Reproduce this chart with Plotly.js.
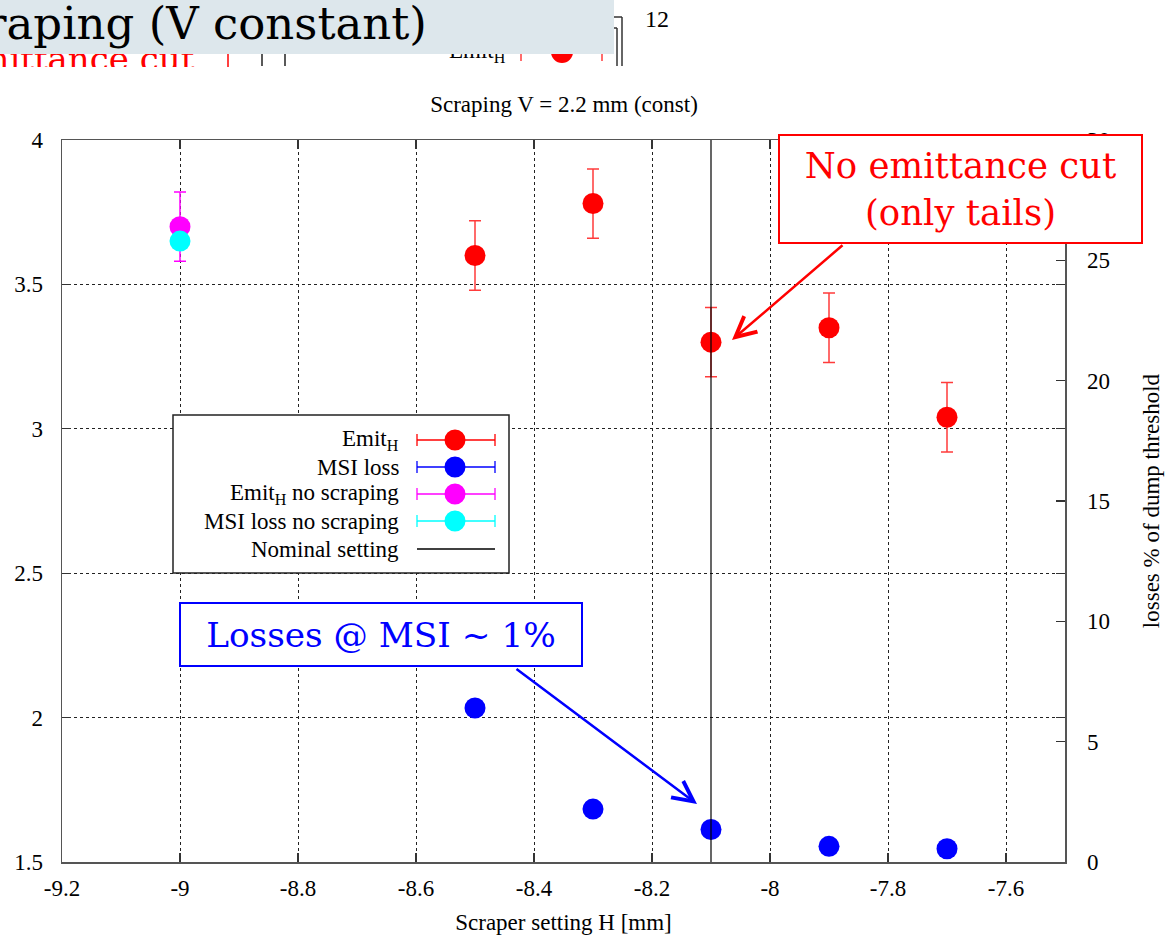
<!DOCTYPE html>
<html><head><meta charset="utf-8">
<script src="https://cdn.plot.ly/plotly-3.0.1.min.js"></script>
<style>html,body{margin:0;padding:0;background:#fff;overflow:hidden}</style>
</head><body><div id="chart" style="width:1169px;height:935px"></div>
<script>
// ---------- data ----------
const scraperH = [-8.5, -8.3, -8.1, -7.9, -7.7];
const emitH = [3.60, 3.78, 3.30, 3.35, 3.04];
const emitHErr = [0.12, 0.12, 0.12, 0.12, 0.12];
const msiLoss = [6.4, 2.2, 1.35, 0.65, 0.55];
const noScrapeH = [-9.0];
const emitHNoScrape = [3.70];
const emitHNoScrapeErr = [0.12];
const msiLossNoScrape = [25.8];
const nominalH = -8.1;

const xTickVals = [-9.2, -9, -8.8, -8.6, -8.4, -8.2, -8, -7.8, -7.6];
const xTickText = ['-9.2', '-9', '-8.8', '-8.6', '-8.4', '-8.2', '-8', '-7.8', '-7.6'];
const yTickVals = [1.5, 2, 2.5, 3, 3.5, 4];
const yTickText = ['1.5', '2', '2.5', '3', '3.5', '4'];
const y2TickVals = [0, 5, 10, 15, 20, 25, 30];
const y2TickText = ['0', '5', '10', '15', '20', '25', '30'];

const legendLabels = ['Emit<sub>H</sub>', 'MSI loss', 'Emit<sub>H</sub> no scraping', 'MSI loss no scraping', 'Nominal setting'];
const legendColors = ['#ff0000', '#0000ff', '#ff00ff', '#00ffff', '#000000'];

const chartTitle = 'Scraping V = 2.2 mm (const)';
const xTitle = 'Scraper setting H [mm]';
const y2Title = 'losses % of dump threshold';
const noteRed = 'No emittance cut<br>(only tails)';
const noteBlue = 'Losses @ MSI ~ 1%';
const slideTitle = 'Scraping (V constant)';
const slideRed = 'No emittance cut';
const slidePage = '12';

// ---------- geometry helpers (pixel -> paper) ----------
const W = 1169, H = 935;
const L = 62, R = 1065, T = 140, B = 862;
const PX = p => (p - L) / (R - L);
const PY = p => (B - p) / (B - T);

const serif = '"Liberation Serif", "Times New Roman", serif';
const slab = '"DejaVu Serif", serif';
const FS = 23;
const tickFont = {family: serif, size: FS, color: '#000'};

// ---------- traces ----------
const traces = [
  {
    x: scraperH, y: emitH, type: 'scatter', mode: 'markers', yaxis: 'y',
    marker: {color: '#ff0000', size: 21},
    error_y: {type: 'data', array: emitHErr, visible: true, color: '#ff3b3b', thickness: 1.5, width: 6},
    showlegend: false, hoverinfo: 'skip'
  },
  {
    x: noScrapeH, y: emitHNoScrape, type: 'scatter', mode: 'markers', yaxis: 'y',
    marker: {color: '#ff00ff', size: 21},
    error_y: {type: 'data', array: emitHNoScrapeErr, visible: true, color: '#ff00ff', thickness: 1.5, width: 6},
    showlegend: false, hoverinfo: 'skip'
  },
  {
    x: scraperH, y: msiLoss, type: 'scatter', mode: 'markers', yaxis: 'y2',
    marker: {color: '#0000ff', size: 21},
    showlegend: false, hoverinfo: 'skip'
  },
  {
    x: noScrapeH, y: msiLossNoScrape, type: 'scatter', mode: 'markers', yaxis: 'y2',
    marker: {color: '#00ffff', size: 21},
    showlegend: false, hoverinfo: 'skip'
  }
];

// ---------- shapes ----------
const shapes = [];
shapes.push({type: 'line', xref: 'x', yref: 'paper', x0: nominalH, x1: nominalH, y0: 0, y1: 1,
  line: {color: '#000', width: 1.2}, layer: 'above'});

// custom legend box
const lgX0 = 173, lgX1 = 509, lgY0 = 415, lgY1 = 573;
shapes.push({type: 'rect', xref: 'paper', yref: 'paper', x0: PX(lgX0), x1: PX(lgX1), y0: PY(lgY0), y1: PY(lgY1),
  line: {color: '#222', width: 1.5}, fillcolor: '#fff', layer: 'above'});
const lgRows = [440, 467, 494, 521, 549];
const sx0 = 417, sx1 = 495, sxm = 455;
lgRows.forEach((ry, i) => {
  const c = legendColors[i];
  shapes.push({type: 'line', xref: 'paper', yref: 'paper', x0: PX(sx0), x1: PX(sx1), y0: PY(ry), y1: PY(ry),
    line: {color: c, width: 1.3}, layer: 'above'});
  if (i < 4) {
    [sx0, sx1].forEach(cx => shapes.push({type: 'line', xref: 'paper', yref: 'paper', x0: PX(cx), x1: PX(cx),
      y0: PY(ry - 6), y1: PY(ry + 6), line: {color: c, width: 1.3}, layer: 'above'}));
    shapes.push({type: 'circle', xref: 'paper', yref: 'paper', x0: PX(sxm - 10.5), x1: PX(sxm + 10.5),
      y0: PY(ry - 10.5), y1: PY(ry + 10.5), line: {width: 0}, fillcolor: c, layer: 'above'});
  }
});

// slide fragments at the top
const frag = (x0, y0, x1, y1, color) => shapes.push({type: 'line', xref: 'paper', yref: 'paper',
  x0: PX(x0), x1: PX(x1), y0: PY(y0), y1: PY(y1), line: {color: color, width: 1.5}, layer: 'above'});
frag(228, 48, 228, 68, '#ff0000');
frag(262, 48, 262, 66, '#222');
frag(285, 48, 285, 66, '#222');
frag(521, 44, 521, 61, '#ff3b3b');
frag(602, 44, 602, 61, '#ff3b3b');
frag(617, 28, 617, 66, '#333');
frag(622, 17, 622, 66, '#333');
frag(610, 17, 622, 17, '#333');
frag(610, 28, 617, 28, '#333');
shapes.push({type: 'circle', xref: 'paper', yref: 'paper', x0: PX(551), x1: PX(573), y0: PY(41), y1: PY(63),
  line: {width: 0}, fillcolor: '#ff0000', layer: 'above'});

// ---------- annotations ----------
const annotations = [];
// slide fragments: red text and Emit_H piece, then white cover below, grey title box on top
annotations.push({xref: 'paper', yref: 'paper', x: PX(197), y: PY(81), xanchor: 'right', yanchor: 'bottom',
  text: slideRed, showarrow: false, font: {family: slab, size: 34, color: '#ff0000'}});
annotations.push({xref: 'paper', yref: 'paper', x: PX(508), y: PY(68), xanchor: 'right', yanchor: 'bottom',
  text: 'Emit<sub>H</sub>', showarrow: false, font: {family: serif, size: FS, color: '#000'}});
annotations.push({xref: 'paper', yref: 'paper', x: PX(-10), y: PY(66.5), xanchor: 'left', yanchor: 'top',
  text: ' ', showarrow: false, bgcolor: '#fff', borderpad: 0, borderwidth: 0, width: 720, height: 22});
annotations.push({xref: 'paper', yref: 'paper', x: PX(-20), y: PY(-20), xanchor: 'left', yanchor: 'top',
  text: ' ', showarrow: false, bgcolor: '#dde7ec', borderpad: 0, borderwidth: 0, width: 634, height: 74});
annotations.push({xref: 'paper', yref: 'paper', x: PX(429), y: PY(24), xanchor: 'right', yanchor: 'middle',
  text: slideTitle, showarrow: false, font: {family: slab, size: 45, color: '#000'}});
annotations.push({xref: 'paper', yref: 'paper', x: PX(657), y: PY(19), xanchor: 'center', yanchor: 'middle',
  text: slidePage, showarrow: false, font: {family: serif, size: 24, color: '#000'}});

// legend texts
lgRows.forEach((ry, i) => annotations.push({xref: 'paper', yref: 'paper', x: PX(401), y: PY(ry),
  xanchor: 'right', yanchor: 'middle', text: legendLabels[i], showarrow: false,
  font: {family: serif, size: FS, color: '#000'}}));

// callouts
annotations.push({xref: 'paper', yref: 'paper', x: PX(960.5), y: PY(189), xanchor: 'center', yanchor: 'middle',
  text: noteRed, showarrow: false, align: 'center', font: {family: slab, size: 35.5, color: '#ff0000'},
  bgcolor: '#fff', bordercolor: '#ff0000', borderwidth: 2, borderpad: 0, width: 361, height: 106});
annotations.push({xref: 'paper', yref: 'paper', x: PX(732), y: PY(340), text: '', showarrow: true,
  ax: 112, ay: -96, arrowcolor: '#ff0000', arrowwidth: 2.5, arrowhead: 5, arrowsize: 1.6, standoff: 0});
annotations.push({xref: 'paper', yref: 'paper', x: PX(381), y: PY(634.5), xanchor: 'center', yanchor: 'middle',
  text: noteBlue, showarrow: false, font: {family: slab, size: 34.3, color: '#0000ff'},
  bgcolor: '#fff', bordercolor: '#0000ff', borderwidth: 2, borderpad: 0, width: 400, height: 61});
annotations.push({xref: 'paper', yref: 'paper', x: PX(697), y: PY(804), text: '', showarrow: true,
  ax: -182, ay: -136, arrowcolor: '#0000ff', arrowwidth: 2.5, arrowhead: 5, arrowsize: 1.6, standoff: 0});

// ---------- layout ----------
const gridStyle = {showgrid: true, gridcolor: '#222', gridwidth: 1, griddash: '3px,3px'};
const layout = {
  width: W, height: H,
  margin: {l: L, r: W - R, t: T, b: H - B, pad: 0},
  paper_bgcolor: '#fff', plot_bgcolor: '#fff',
  font: {family: serif, size: FS, color: '#000'},
  showlegend: false,
  title: {text: chartTitle, font: {family: serif, size: FS, color: '#000'},
    x: 564 / W, xref: 'container', xanchor: 'center',
    y: 1 - 104 / H, yref: 'container', yanchor: 'middle'},
  xaxis: Object.assign({
    range: [-9.2, -7.5], tickmode: 'array', tickvals: xTickVals, ticktext: xTickText, tickfont: tickFont,
    ticks: 'inside', ticklen: 9, tickcolor: '#333', tickwidth: 1.3,
    showline: true, linecolor: '#555', linewidth: 1.5, mirror: 'ticks', zeroline: false,
    ticklabelstandoff: 5,
    title: {text: xTitle, font: {family: serif, size: FS}, standoff: 14}
  }, gridStyle),
  yaxis: Object.assign({
    range: [1.5, 4], tickmode: 'array', tickvals: yTickVals, ticktext: yTickText, tickfont: tickFont,
    ticks: 'inside', ticklen: 9, tickcolor: '#333', tickwidth: 1.3,
    showline: true, linecolor: '#555', linewidth: 1.5, mirror: 'ticks', zeroline: false,
    ticklabelstandoff: 13
  }, gridStyle),
  yaxis2: {
    range: [0, 30], overlaying: 'y', side: 'right', tickmode: 'array', tickvals: y2TickVals, ticktext: y2TickText,
    tickfont: tickFont,
    ticks: 'inside', ticklen: 9, tickcolor: '#333', tickwidth: 1.3,
    showline: true, linecolor: '#555', linewidth: 1.5, showgrid: false, zeroline: false,
    ticklabelstandoff: 16,
    title: {text: y2Title, font: {family: serif, size: FS}, standoff: 34}
  },
  shapes: shapes,
  annotations: annotations
};

Plotly.newPlot('chart', traces, layout, {staticPlot: true, displayModeBar: false});
</script>
</body></html>
